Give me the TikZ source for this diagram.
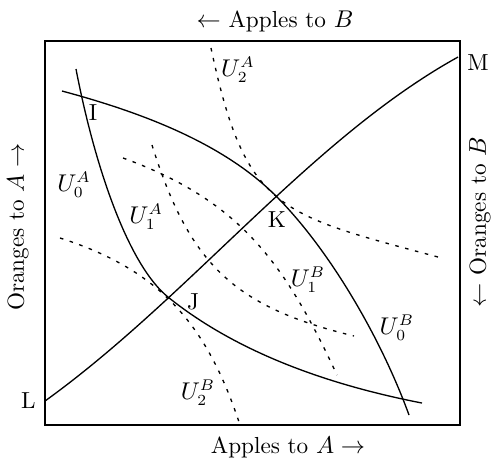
\documentclass[tikz,border=0pt,11pt]{standalone}
\usepackage{amsmath,amssymb}
\usepackage{tikz}
\usetikzlibrary{positioning}
\tikzset{
  indiff/.style={line width=0.6pt},
  shifted/.style={line width=0.6pt,dash pattern=on 1.6pt off 3pt},
  curvelab/.style={inner sep=1pt}
}

\begin{document}
\begin{tikzpicture}[x=0.66cm,y=0.66cm,every node/.style={font=\fontsize{10.5}{12.6}\selectfont}]
    \useasboundingbox (-1.084,-0.867) rectangle (10.795,10.241);
    % Edgeworth box
    \draw[line width=1.1pt] (0,0) rectangle (10,9.25);
    \node (apB) at (5.542,9.735) {$\leftarrow$ Apples to $B$};
    \node (apA) at (5.855,-0.53) {Apples to $A\rightarrow$};
    \node[rotate=90,inner sep=1pt] (orA) at (-0.651,4.771) {Oranges to $A\rightarrow$};
    \node[rotate=90,inner sep=1pt] (orB) at (10.48,4.89) {$\leftarrow$ Oranges to $B$};
    % contract curve
    \coordinate (L) at (0,0.578);
    \coordinate (M) at (9.952,8.867);
    \draw[indiff] (L) .. controls (3.5,3.1) and (6.4,6.9) .. (M);
    \node[left=3pt of L,inner sep=1pt] (Llab) {L};
    \node[right=3pt of M,inner sep=1pt,yshift=-2.5pt] (Mlab) {M};
    % U_0^A and U_0^B
    \coordinate (J0) at (2.964,3.084);
    \coordinate (K0) at (5.566,5.518);
    \draw[indiff] (0.747,8.578) .. controls (1.22,6.13) and (2.03,3.84) .. (J0)
                  .. controls (4.52,1.83) and (6.634,1.005) .. (9.084,0.53);
    \draw[indiff] (0.41,8.048) .. controls (2.34,7.53) and (4.293,6.791) .. (K0)
                  .. controls (6.839,4.245) and (8.087,2.121) .. (8.771,0.241);
    % further indifference curves
    \draw[shifted] (4.0,9.084) .. controls (4.832,5.172) and (5.606,5.084) .. (9.47,4.048);
    \draw[shifted] (2.578,6.747) .. controls (3.48,3.886) and (4.53,2.85) .. (7.446,2.145);
    \draw[shifted] (1.88,6.434) .. controls (4.7,5.408) and (5.767,3.923) .. (7.036,1.205);
    \draw[shifted] (0.361,4.506) .. controls (2.744,3.751) and (3.885,2.445) .. (4.675,0.072);
    % labels
    \node[curvelab] (I) at (1.157,7.518) {I};
    \node[curvelab] (J) at (3.566,2.964) {J};
    \node[curvelab] (K) at (5.59,4.94) {K};
    \node[curvelab] (u0a) at (0.7,5.783) {$U_0^A$};
    \node[curvelab] (u1a) at (2.44,5.012) {$U_1^A$};
    \node[curvelab] (u2a) at (4.651,8.554) {$U_2^A$};
    \node[curvelab] (u0b) at (8.48,2.337) {$U_0^B$};
    \node[curvelab] (u1b) at (6.337,3.494) {$U_1^B$};
    \node[curvelab] (u2b) at (3.687,0.771) {$U_2^B$};
\end{tikzpicture}
\end{document}
